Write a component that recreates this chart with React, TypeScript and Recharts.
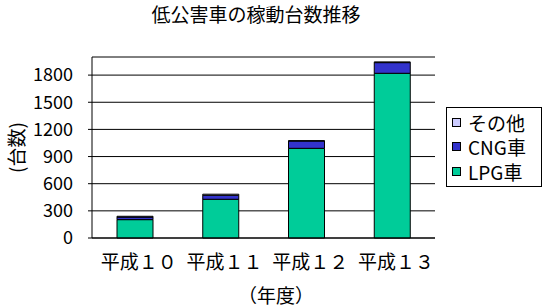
import React from 'react';
import { BarChart, Bar, XAxis, YAxis, CartesianGrid } from 'recharts';

const years = ['平成１０', '平成１１', '平成１２', '平成１３'];
const lpg = [203, 428, 991, 1820];
const cng = [28, 44, 81, 118];
const other = [9, 12, 3, 8];
const yTicks = [0, 300, 600, 900, 1200, 1500, 1800];

const series = [
    { key: 'lpg', name: 'LPG車', color: '#00CC99' },
    { key: 'cng', name: 'CNG車', color: '#3333CC' },
    { key: 'other', name: 'その他', color: '#CCCCFF' },
];

const data = years.map((y, i) => ({ year: y, lpg: lpg[i], cng: cng[i], other: other[i] }));

const font = "'Noto Sans CJK JP', sans-serif";

// small inward marks between categories, like Excel's category axis
function BoundaryTick(props: any) {
    const { x, y, index, payload, visibleTicksCount } = props;
    if (index >= visibleTicksCount - 1) return <g />;
    const bx = x + (payload?.offset ?? 0);
    return <line x1={bx} x2={bx} y1={y} y2={y - 5} stroke="#000" strokeWidth={1} />;
}

function LegendBox() {
    // Excel draws the stack top-down in the legend
    return (
        <div style={{ position: 'absolute', left: 446, top: 107, border: '1px solid #000', width: 94, height: 76, background: '#fff', paddingTop: 2 }}>
            {[...series].reverse().map(s => (
                <div key={s.key} style={{ display: 'flex', alignItems: 'center', height: 24.5, paddingLeft: 5 }}>
                    <span style={{ width: 7, height: 7, border: '1px solid #000', background: s.color, marginRight: 7 }} />
                    <span style={{ fontSize: 19, lineHeight: '19px', color: '#000', fontFamily: font }}>{s.name}</span>
                </div>
            ))}
        </div>
    );
}

export default function App() {
    return (
        <div style={{ position: 'absolute', left: 0, top: 0, width: 547, height: 307, background: '#fff', fontFamily: font }}>
            <div style={{ position: 'absolute', left: 146, top: 4, width: 220, textAlign: 'center', fontSize: 19, lineHeight: '19px', color: '#000' }}>
                低公害車の稼動台数推移
            </div>
            <div style={{ position: 'absolute', left: -15, top: 138, width: 60, textAlign: 'center', fontSize: 19, lineHeight: '19px', transform: 'rotate(-90deg)', color: '#000' }}>
                (台数)
            </div>
            <div style={{ position: 'absolute', left: 226, top: 285, width: 100, textAlign: 'center', fontSize: 19, lineHeight: '19px', color: '#000' }}>
                （年度）
            </div>
            <BarChart width={547} height={307} data={data} margin={{ top: 57, right: 112, bottom: 39, left: 32 }}>
                <CartesianGrid vertical={false} stroke="#000" strokeOpacity={1} />
                <XAxis xAxisId="bounds" dataKey="year" orientation="bottom" height={0} tickSize={0} tickMargin={0}
                    tickLine={false} axisLine={false} tick={<BoundaryTick />} interval={0} />
                <XAxis dataKey="year" height={30} tickLine={false} tickSize={0} tickMargin={18}
                    axisLine={{ stroke: '#000' }} tick={{ fill: '#000', fontSize: 19, fontFamily: font, dx: 4 }} interval={0} />
                <XAxis xAxisId="top" orientation="top" dataKey="year" height={0} tick={false} tickLine={false} axisLine={{ stroke: '#000' }} />
                <YAxis domain={[0, 2000]} ticks={yTicks} width={60} tickSize={4} tickMargin={15}
                    axisLine={{ stroke: '#000' }} tickLine={{ stroke: '#000' }}
                    tick={{ fill: '#000', fontSize: 18, fontFamily: font }} interval={0} />
                <YAxis yAxisId="right" orientation="right" type="number" domain={[0, 2000]} width={0}
                    tick={false} tickLine={false} axisLine={{ stroke: '#000' }} />
                {series.map(s => (
                    <Bar key={s.key} dataKey={s.key} name={s.name} stackId="a" fill={s.color}
                        stroke="#000" strokeWidth={1} barSize={36} isAnimationActive={false} />
                ))}
            </BarChart>
            <LegendBox />
        </div>
    );
}
